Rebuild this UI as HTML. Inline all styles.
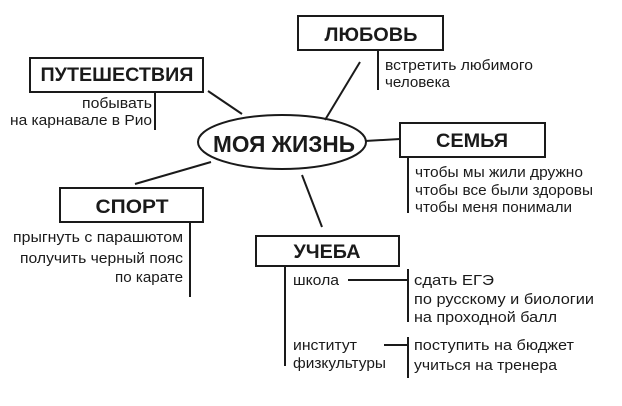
<!DOCTYPE html>
<html><head><meta charset="utf-8"><style>
html,body{margin:0;padding:0;background:#fff;}
svg{display:block;}
text{font-family:"Liberation Sans","DejaVu Sans",sans-serif;fill:#1a1a1a;}
.t{font-weight:bold;font-size:19px;text-anchor:middle;}
.s{font-size:15px;}
.r{text-anchor:end;}
</style></head><body>
<svg width="622" height="406" viewBox="0 0 622 406" xmlns="http://www.w3.org/2000/svg">
<g stroke="#1a1a1a" stroke-width="2" fill="none">
<rect x="298" y="16" width="145" height="34"/>
<rect x="30" y="58" width="173" height="34"/>
<rect x="400" y="123" width="145" height="34"/>
<rect x="60" y="188" width="143" height="34"/>
<rect x="256" y="236" width="143" height="30"/>
<ellipse cx="282" cy="142" rx="84" ry="27"/>
<line x1="378" y1="50" x2="378" y2="90"/>
<line x1="155" y1="92" x2="155" y2="130"/>
<line x1="208" y1="91" x2="242" y2="114"/>
<line x1="360" y1="62" x2="325" y2="120"/>
<line x1="365" y1="141" x2="400" y2="139"/>
<line x1="408" y1="157" x2="408" y2="213"/>
<line x1="211" y1="162" x2="135" y2="184"/>
<line x1="190" y1="222" x2="190" y2="297"/>
<line x1="302" y1="175" x2="322" y2="227"/>
<line x1="285" y1="266" x2="285" y2="366"/>
<line x1="348" y1="280" x2="408" y2="280"/>
<line x1="408" y1="269" x2="408" y2="322"/>
<line x1="384" y1="345" x2="408" y2="345"/>
<line x1="408" y1="337" x2="408" y2="378"/>
</g>
<text class="t" x="371" y="41" textLength="93" lengthAdjust="spacingAndGlyphs">ЛЮБОВЬ</text>
<text class="t" x="117" y="81" textLength="153" lengthAdjust="spacingAndGlyphs">ПУТЕШЕСТВИЯ</text>
<text class="t" x="284" y="152" style="font-size:23px" textLength="142" lengthAdjust="spacingAndGlyphs">МОЯ ЖИЗНЬ</text>
<text class="t" x="472" y="147" textLength="72" lengthAdjust="spacingAndGlyphs">СЕМЬЯ</text>
<text class="t" x="132" y="213" textLength="73" lengthAdjust="spacingAndGlyphs">СПОРТ</text>
<text class="t" x="327" y="258" textLength="67" lengthAdjust="spacingAndGlyphs">УЧЕБА</text>

<text class="s" x="385" y="70" textLength="148" lengthAdjust="spacingAndGlyphs">встретить любимого</text>
<text class="s" x="385" y="87" textLength="65" lengthAdjust="spacingAndGlyphs">человека</text>
<text class="s r" x="152" y="108" textLength="70" lengthAdjust="spacingAndGlyphs">побывать</text>
<text class="s r" x="152" y="125" textLength="142" lengthAdjust="spacingAndGlyphs">на карнавале в Рио</text>
<text class="s" x="415" y="177" textLength="168" lengthAdjust="spacingAndGlyphs">чтобы мы жили дружно</text>
<text class="s" x="415" y="195" textLength="178" lengthAdjust="spacingAndGlyphs">чтобы все были здоровы</text>
<text class="s" x="415" y="212" textLength="157" lengthAdjust="spacingAndGlyphs">чтобы меня понимали</text>
<text class="s r" x="183" y="242" textLength="170" lengthAdjust="spacingAndGlyphs">прыгнуть с парашютом</text>
<text class="s r" x="183" y="263" textLength="163" lengthAdjust="spacingAndGlyphs">получить черный пояс</text>
<text class="s r" x="183" y="282" textLength="68" lengthAdjust="spacingAndGlyphs">по карате</text>
<text class="s" x="293" y="285" textLength="46" lengthAdjust="spacingAndGlyphs">школа</text>
<text class="s" x="414" y="285" textLength="80" lengthAdjust="spacingAndGlyphs">сдать ЕГЭ</text>
<text class="s" x="414" y="304" textLength="180" lengthAdjust="spacingAndGlyphs">по русскому и биологии</text>
<text class="s" x="414" y="322" textLength="143" lengthAdjust="spacingAndGlyphs">на проходной балл</text>
<text class="s" x="293" y="350" textLength="64" lengthAdjust="spacingAndGlyphs">институт</text>
<text class="s" x="293" y="368" textLength="93" lengthAdjust="spacingAndGlyphs">физкультуры</text>
<text class="s" x="414" y="350" textLength="160" lengthAdjust="spacingAndGlyphs">поступить на бюджет</text>
<text class="s" x="414" y="370" textLength="143" lengthAdjust="spacingAndGlyphs">учиться на тренера</text>
</svg>
</body></html>
